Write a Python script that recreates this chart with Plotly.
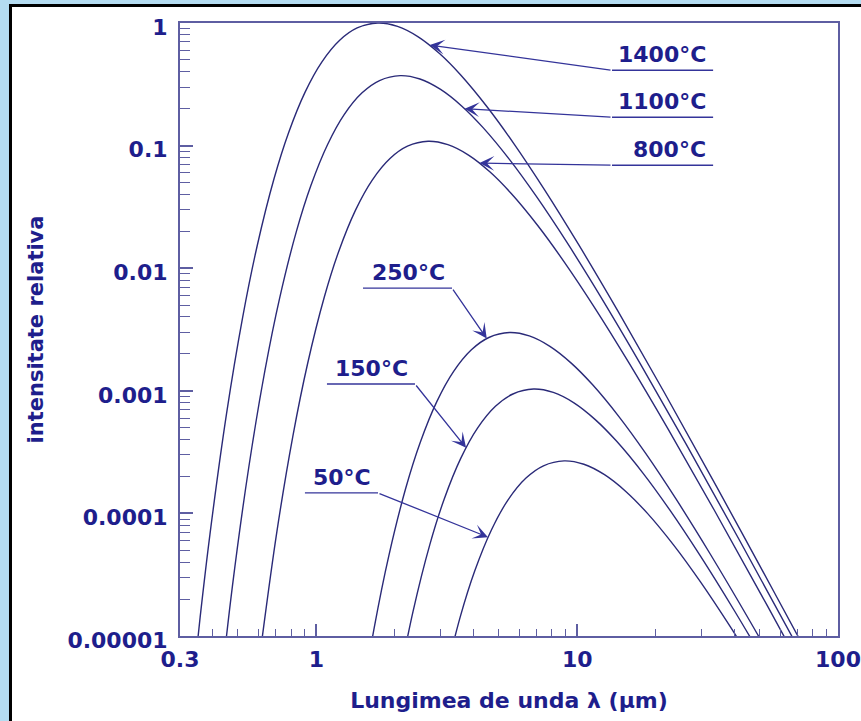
import numpy as np
import plotly.graph_objects as go

# Relative spectral intensity curves (wavelength in micrometres)
lam_1400 = [0.3308, 0.3583, 0.3909, 0.4526, 0.5212, 0.5931, 0.6880, 0.7818, 0.9053, 1.0488, 1.2286, 1.4333,
            1.7200, 2.0476, 2.4572, 2.9656, 3.5834, 4.5264, 5.7334, 7.4784, 10.118, 14.333, 21.500,
            34.400, 57.334, 86.001]
val_1400 = [2.863e-6, 1.418e-5, 6.781e-5, 6.544e-4, 3.938e-3, 0.01525, 0.05365, 0.1269, 0.2732, 0.4804, 0.7236,
            0.9115, 0.9999, 0.9384, 0.7714, 0.5633, 0.3747, 0.2054, 0.1029, 0.04396, 0.01562,
            4.461e-3, 9.820e-4, 1.622e-4, 2.213e-5, 4.485e-6]

lam_1100 = [0.4030, 0.4763, 0.5515, 0.6351, 0.7227, 0.8383, 0.9527, 1.1031, 1.2780, 1.4970, 1.7465,
            2.0958, 2.4950, 2.9941, 3.6135, 4.3663, 5.5154, 6.9861, 9.1123, 12.328, 17.465, 26.198,
            41.917, 69.861]
val_1100 = [1.066e-6, 2.524e-5, 2.436e-4, 1.466e-3, 5.677e-3, 0.01997, 0.04724, 0.1017, 0.1789, 0.2694,
            0.3393, 0.3722, 0.3494, 0.2872, 0.2097, 0.1395, 0.07647, 0.03830, 0.01636, 5.816e-3,
            1.661e-3, 3.656e-4, 6.037e-5, 8.239e-6]

lam_800 = [0.6095, 0.7057, 0.8127, 0.9248, 1.0727, 1.2190, 1.4115, 1.6353, 1.9156, 2.2349, 2.6818,
           3.1926, 3.8312, 4.6238, 5.5871, 7.0574, 8.9394, 11.660, 15.775, 22.349, 33.523, 53.636, 89.394]
val_800 = [7.359e-6, 7.102e-5, 4.274e-4, 1.655e-3, 5.822e-3, 0.01377, 0.02965, 0.05214, 0.07852, 0.09891,
           0.1085, 0.1018, 0.08371, 0.06113, 0.04066, 0.02229, 0.01116, 4.770e-3, 1.695e-3, 4.841e-4,
           1.066e-4, 1.760e-5, 2.402e-6]

lam_250 = [1.4479, 1.6673, 1.8973, 2.2008, 2.5010, 2.8958, 3.3549, 3.9301, 4.5851, 5.5021, 6.5501, 7.8601,
           9.4864, 11.463, 14.479, 18.340, 23.922, 32.365, 45.851, 68.776]
val_250 = [1.954e-6, 1.176e-5, 4.553e-5, 1.602e-4, 3.788e-4, 8.158e-4, 1.434e-3, 2.160e-3, 2.721e-3,
           2.985e-3, 2.802e-3, 2.303e-3, 1.682e-3, 1.119e-3, 6.132e-4, 3.071e-4, 1.312e-4, 4.664e-5,
           1.332e-5, 2.932e-6]

lam_150 = [2.0615, 2.3458, 2.7211, 3.0922, 3.5804, 4.1481, 4.8592, 5.6690, 6.8028, 8.0986, 9.7183, 11.729,
           14.173, 17.902, 22.676, 29.578, 40.017, 56.690]
val_150 = [4.069e-6, 1.576e-5, 5.543e-5, 1.311e-4, 2.823e-4, 4.964e-4, 7.477e-4, 9.418e-4, 1.033e-3,
           9.697e-4, 7.971e-4, 5.821e-4, 3.872e-4, 2.122e-4, 1.063e-4, 4.542e-5, 1.614e-5, 4.610e-6]

lam_50 = [3.0721, 3.5636, 4.0495, 4.6889, 5.4323, 6.3636, 7.4242, 8.9090, 10.606, 12.727, 15.360, 18.560,
          23.445, 29.697, 38.735, 52.406]
val_50 = [4.091e-6, 1.439e-5, 3.404e-5, 7.330e-5, 1.289e-4, 1.941e-4, 2.445e-4, 2.682e-4, 2.518e-4,
          2.069e-4, 1.511e-4, 1.005e-4, 5.510e-5, 2.760e-5, 1.179e-5, 4.191e-6]

# Temperature labels: underline span, arrow tip on its curve
labels = ["1400°C", "1100°C", "800°C", "250°C", "150°C", "50°C"]
ul_left = [13.6, 13.6, 13.6, 1.509, 1.098, 0.904]
ul_right = [33.2, 33.2, 33.2, 3.311, 2.388, 1.723]
ul_val = [0.4116, 0.1704, 0.0692, 6.88e-3, 1.136e-3, 1.469e-4]
tail_side = ["left", "left", "left", "right", "right", "right"]
tip_lam = [2.72, 3.7, 4.22, 4.5, 3.75, 4.55]
tip_val = [0.66, 0.2, 0.072, 2.67e-3, 3.43e-4, 6.4e-5]

# Axis ticks
x_tickvals = [0.3, 1, 10, 100]
x_ticktext = ["0.3", "1", "10", "100"]
x_minor = [0.4, 0.5, 0.6, 0.7, 0.8, 0.9, 2, 3, 4, 5, 6, 7, 8, 9, 20, 30, 40, 50, 60, 70, 80, 90]
y_tickvals = [1e-5, 1e-4, 1e-3, 1e-2, 1e-1, 1]
y_ticktext = ["0.00001", "0.0001", "0.001", "0.01", "0.1", "1"]
y_minor = [m * 10.0 ** e for e in range(-5, 0) for m in range(2, 10)]

FONT = "DejaVu Sans"
TEXT_COLOR = "#1e1e8c"
CURVE_COLOR = "#2a2a78"
AXIS_COLOR = "#5e5ea2"
LEADER_COLOR = "#34349a"

fig = go.Figure()

curves = [(lam_1400, val_1400), (lam_1100, val_1100), (lam_800, val_800),
          (lam_250, val_250), (lam_150, val_150), (lam_50, val_50)]
for name, (lx, vy) in zip(labels, curves):
    fig.add_trace(go.Scatter(x=lx, y=vy, mode="lines", name=name,
                             line=dict(color=CURVE_COLOR, width=1.4, shape="spline", smoothing=1.0),
                             hoverinfo="skip"))

annotations = []
for i, name in enumerate(labels):
    # underline below the label text
    fig.add_trace(go.Scatter(x=[ul_left[i], ul_right[i]], y=[ul_val[i], ul_val[i]], mode="lines",
                             line=dict(color=LEADER_COLOR, width=1.4), hoverinfo="skip"))
    tail_x = ul_left[i] if tail_side[i] == "left" else ul_right[i]
    annotations.append(dict(
        x=np.log10(tip_lam[i]), y=np.log10(tip_val[i]), xref="x", yref="y",
        ax=np.log10(tail_x), ay=np.log10(ul_val[i]), axref="x", ayref="y",
        text="", showarrow=True, arrowhead=3, arrowsize=1.9, arrowwidth=1.3,
        arrowcolor=LEADER_COLOR, standoff=0))
    annotations.append(dict(
        x=np.log10(ul_right[i]), y=np.log10(ul_val[i]), xref="x", yref="y",
        text=name, showarrow=False, xanchor="right", yanchor="bottom", xshift=-5, yshift=1,
        font=dict(family=FONT, size=22, color=TEXT_COLOR, weight="bold")))

tick_font = dict(family=FONT, size=22, color=TEXT_COLOR, weight="bold")

fig.update_layout(
    width=861, height=721,
    margin=dict(l=180, r=23, t=23, b=85),
    paper_bgcolor="#b4dcf1",
    plot_bgcolor="white",
    showlegend=False,
    annotations=annotations,
    shapes=[dict(type="rect", xref="paper", yref="paper",
                 x0=-0.2576, x1=1.3, y0=-0.3, y1=1.0286,
                 line=dict(color="black", width=3), fillcolor="white", layer="below")],
    xaxis=dict(
        type="log", range=[np.log10(0.3), 2], automargin=False,
        tickmode="array", tickvals=x_tickvals, ticktext=x_ticktext,
        ticks="inside", ticklen=12, tickwidth=1.5, tickcolor=AXIS_COLOR,
        showline=True, linecolor=AXIS_COLOR, linewidth=2, mirror=True,
        showgrid=False, zeroline=False, tickfont=tick_font, ticklabelstandoff=3,
        minor=dict(tickmode="array", tickvals=x_minor, ticks="inside", ticklen=7,
                   tickwidth=1.3, tickcolor=AXIS_COLOR, showgrid=False),
        title=dict(text="Lungimea de unda λ (µm)", standoff=21,
                   font=dict(family=FONT, size=22, color=TEXT_COLOR, weight="bold")),
    ),
    yaxis=dict(
        type="log", range=[-5, 0], automargin=False,
        tickmode="array", tickvals=y_tickvals, ticktext=y_ticktext,
        ticks="inside", ticklen=13, tickwidth=1.5, tickcolor=AXIS_COLOR,
        showline=True, linecolor=AXIS_COLOR, linewidth=2, mirror=True,
        showgrid=False, zeroline=False, tickfont=tick_font, ticklabelstandoff=6,
        ticklabelshift=4,
        minor=dict(tickmode="array", tickvals=y_minor, ticks="inside", ticklen=10,
                   tickwidth=1.3, tickcolor=AXIS_COLOR, showgrid=False),
        title=dict(text="intensitate relativa", standoff=18,
                   font=dict(family=FONT, size=21, color=TEXT_COLOR, weight="bold")),
    ),
)

fig.write_html("out.html")
